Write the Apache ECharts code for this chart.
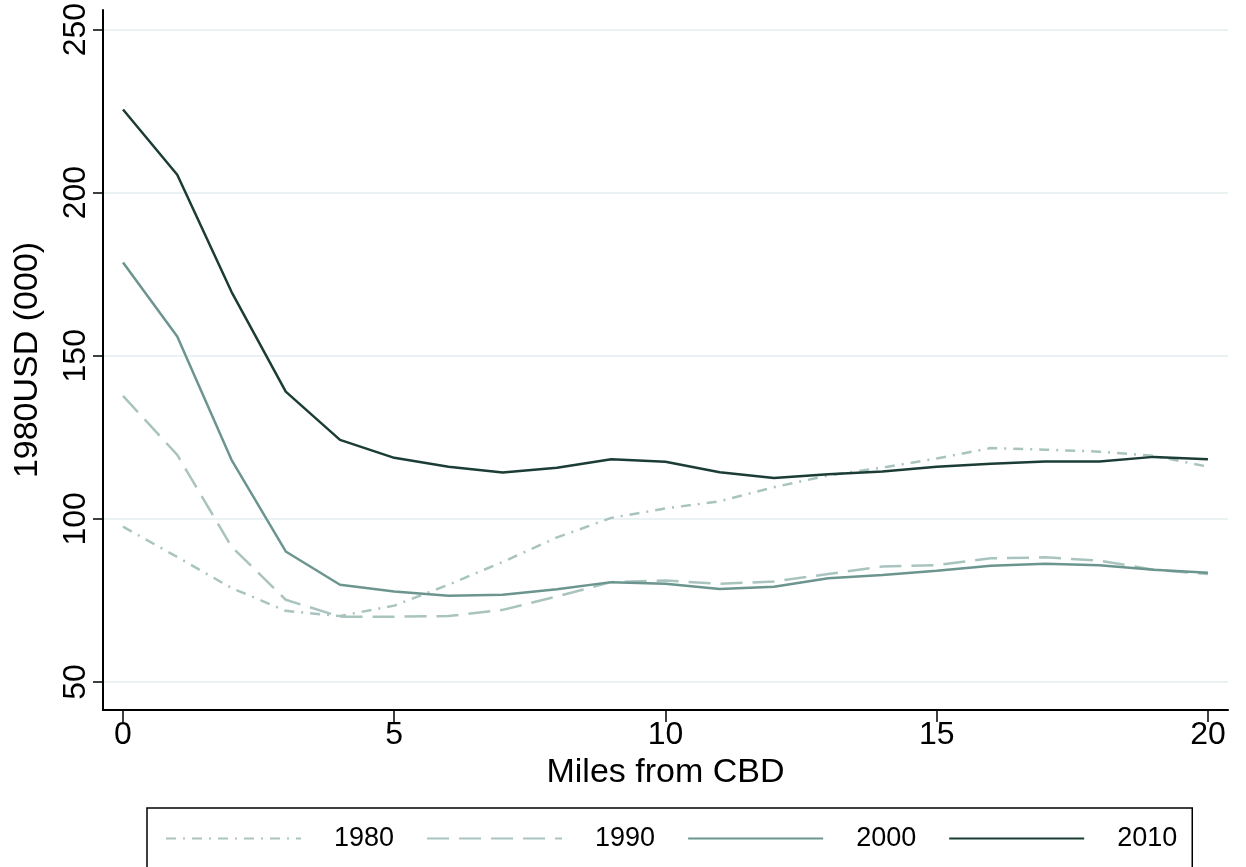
<!DOCTYPE html>
<html>
<head>
<meta charset="utf-8">
<script src="https://cdn.jsdelivr.net/npm/echarts@6/dist/echarts.min.js"></script>
<style>
html,body{margin:0;padding:0;background:#fff;}
#chart{width:1246px;height:867px;}
</style>
</head>
<body>
<div id="chart"></div>
<script>
var miles = [0,1,2,3,4,5,6,7,8,9,10,11,12,13,14,15,16,17,18,19,20];
var y1980 = [97.6, 88.3, 78.8, 71.8, 70.2, 73.4, 79.8, 86.8, 94.3, 100.3, 103.2, 105.4, 109.7, 113.3, 115.7, 118.5, 121.7, 121.2, 120.6, 119.3, 116.0];
var y1990 = [137.7, 119.6, 91.5, 75.2, 70.0, 70.0, 70.2, 72.1, 76.2, 80.6, 81.1, 80.1, 80.8, 83.1, 85.4, 85.8, 87.9, 88.2, 87.2, 84.4, 83.1];
var y2000 = [178.6, 155.9, 118.1, 90.0, 79.8, 77.7, 76.4, 76.7, 78.4, 80.6, 80.1, 78.5, 79.2, 81.8, 82.8, 84.1, 85.6, 86.2, 85.8, 84.4, 83.5];
var y2010 = [225.5, 205.5, 169.6, 139.0, 124.2, 118.7, 116.0, 114.2, 115.7, 118.3, 117.5, 114.3, 112.5, 113.7, 114.5, 116.0, 116.9, 117.6, 117.6, 119.0, 118.3];
var xTicks = [0, 5, 10, 15, 20];
var yTicks = [50, 100, 150, 200, 250];
var seriesNames = ['1980', '1990', '2000', '2010'];

function pairs(ys){ return miles.map(function(m,i){ return [m, ys[i]]; }); }

var FONT = 'Liberation Sans, Arial, Helvetica, sans-serif';
var styles = [
  {color:'#a9c4be', type:[10,7,2,7]},
  {color:'#a9c4be', type:[22,10]},
  {color:'#6b958e', type:'solid'},
  {color:'#1c3c36', type:'solid'}
];
var allData = [y1980, y1990, y2000, y2010];

var chart = echarts.init(document.getElementById('chart'), null, {renderer:'canvas'});
chart.setOption({
  backgroundColor:'#ffffff',
  animation:false,
  grid:{left:103, right:18, top:10, bottom:157, containLabel:false, outerBoundsMode:'none'},
  xAxis:{
    type:'value', min:-0.369, max:20.37,
    name:'Miles from CBD', nameLocation:'middle', nameGap:44,
    nameTextStyle:{fontFamily:FONT, fontSize:34, color:'#000'},
    axisLine:{show:true, onZero:false, lineStyle:{color:'#000', width:2}},
    axisTick:{show:true, length:12, customValues:xTicks, lineStyle:{color:'#000', width:1.5}},
    axisLabel:{customValues:xTicks, fontFamily:FONT, fontSize:32, color:'#000', margin:9},
    splitLine:{show:false}
  },
  yAxis:{
    type:'value', min:41.4, max:256,
    name:'1980USD (000)', nameLocation:'middle', nameGap:58, nameRotate:90,
    nameTextStyle:{fontFamily:FONT, fontSize:34, color:'#000'},
    axisLine:{show:true, onZero:false, lineStyle:{color:'#000', width:2}},
    axisTick:{show:true, length:10, customValues:yTicks, lineStyle:{color:'#000', width:1.5}},
    axisLabel:{customValues:yTicks, rotate:90, fontFamily:FONT, fontSize:32, color:'#000', margin:11},
    splitLine:{show:true, lineStyle:{color:'#eaf2f3', width:2}}
  },
  legend:{
    left:147, top:808, width:1060,
    padding:[17,15,18,18],
    borderColor:'#000', borderWidth:1.5,
    itemWidth:135, itemHeight:14, itemGap:32,
    itemStyle:{color:'transparent', borderWidth:0},
    textStyle:{fontFamily:FONT, fontSize:27, color:'#000', padding:[0,0,0,28]},
    data:seriesNames
  },
  series: seriesNames.map(function(n,i){
    return {
      name:n, type:'line', symbol:'none', smooth:false,
      data:pairs(allData[i]),
      lineStyle:{color:styles[i].color, width:2.5, type:styles[i].type},
      itemStyle:{color:styles[i].color},
      z: 2+i
    };
  })
});
</script>
</body>
</html>
